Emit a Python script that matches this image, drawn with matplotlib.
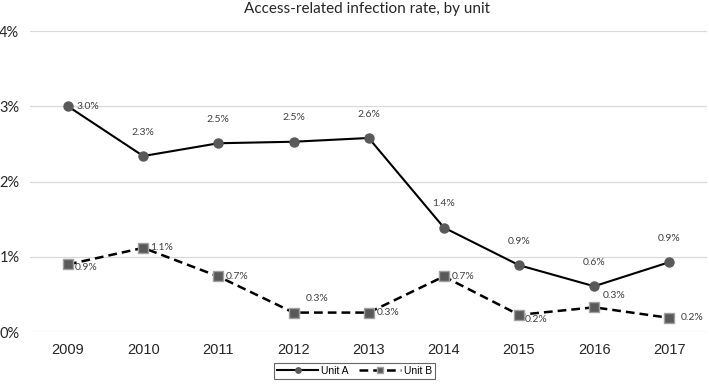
import matplotlib
matplotlib.use("Agg")
import matplotlib.pyplot as plt

years = ["2009", "2010", "2011", "2012", "2013", "2014", "2015", "2016", "2017"]
unit_a = [3.0, 2.34, 2.51, 2.53, 2.58, 1.39, 0.89, 0.61, 0.93]
unit_b = [0.9, 1.12, 0.74, 0.26, 0.26, 0.74, 0.23, 0.33, 0.19]
yticks = [0, 1, 2, 3, 4]

fig = plt.figure(figsize=(7.09, 3.84), dpi=100)
ax = fig.add_axes([0.043, 0.135, 0.954, 0.784])
x = list(range(len(years)))

ax.plot(x, unit_a, color="black", lw=1.5, marker="o", ms=6.5,
        mfc="#595959", mec="#595959", label="Unit A", zorder=3)
ax.plot(x, unit_b, color="black", lw=1.8, ls=(0, (3.5, 2)), marker="s", ms=7,
        mfc="#595959", mec="#a0a0a0", mew=1, label="Unit B", zorder=3)

lab_font = dict(fontsize=7.5, color="#404040", family="Lato")
# Unit A labels
a_off = [(6, 0, "left", "center")] + [(0, 14, "center", "bottom")] * 8
for i, v in enumerate(unit_a):
    dx, dy, ha, va = a_off[i]
    ax.annotate(f"{v:.1f}%", (i, v), xytext=(dx, dy), textcoords="offset points",
                ha=ha, va=va, **lab_font)
b_off = [(5, -2, "left", "center"), (5, 0, "left", "center"), (5, 0, "left", "center"),
         (9, 7, "left", "bottom"), (6, 0, "left", "center"), (6, 0, "left", "center"),
         (4, -3, "left", "center"), (6, 5, "left", "bottom"), (8, 0, "left", "center")]
for i, v in enumerate(unit_b):
    dx, dy, ha, va = b_off[i]
    ax.annotate(f"{v:.1f}%", (i, v), xytext=(dx, dy), textcoords="offset points",
                ha=ha, va=va, **lab_font)

ax.set_xlim(-0.5, len(years) - 0.5)
ax.set_ylim(0, 4)
ax.set_xticks(x)
ax.set_xticklabels(years, fontsize=10.5, family="Liberation Sans", color="#262626")
ax.set_yticks(yticks)
ax.set_yticklabels([f"{t}%" for t in yticks], fontsize=10.5, family="Lato", color="#262626")
ax.tick_params(length=0)
ax.tick_params(axis="x", pad=8)
ax.tick_params(axis="y", pad=8)
ax.grid(axis="y", color="#d9d9d9", lw=0.9)
ax.set_axisbelow(True)
for s in ax.spines.values():
    s.set_visible(False)

fig.suptitle("Access-related infection rate, by unit", x=0.518, y=0.995, va="top",
             fontsize=11, family="Lato", color="#262626")

leg = fig.legend(loc="lower center", bbox_to_anchor=(0.5, 0.0), ncol=2, frameon=True,
                 fancybox=False, edgecolor="#404040", handlelength=4, markerscale=0.6,
                 columnspacing=1.0, handletextpad=0.3, borderpad=0.3,
                 prop={"family": "Liberation Sans", "size": 7.5})
leg.get_frame().set_linewidth(0.8)

fig.savefig("out.png", dpi=100)
